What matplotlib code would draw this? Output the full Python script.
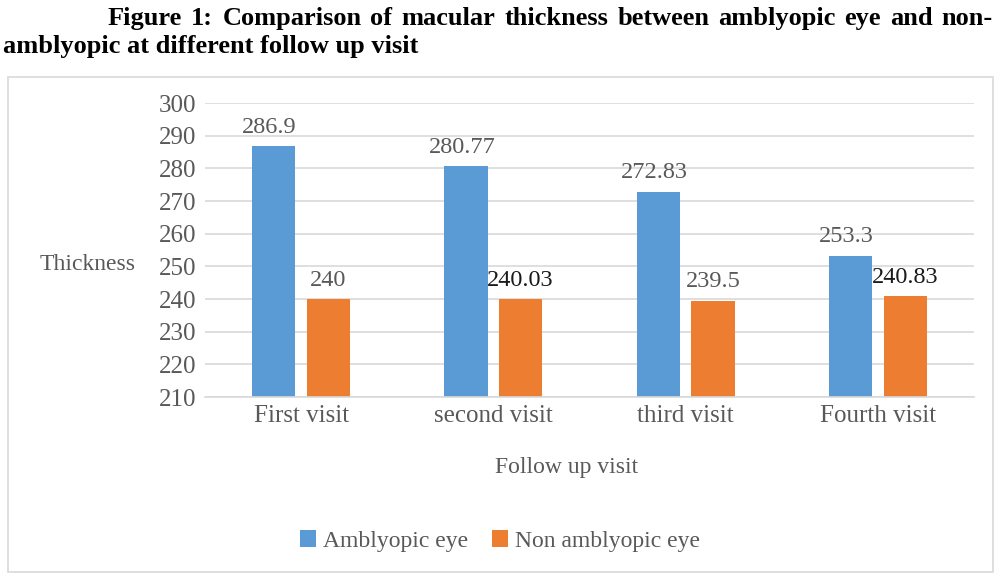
import matplotlib.pyplot as plt
import numpy as np
from matplotlib.patches import Rectangle

# data
visits = ['First visit', 'second visit', 'third visit', 'Fourth visit']
amblyopic = [286.9, 280.77, 272.83, 253.3]
non_amblyopic = [240, 240.03, 239.5, 240.83]
amb_labels = ['286.9', '280.77', '272.83', '253.3']
non_labels = ['240', '240.03', '239.5', '240.83']

plt.rcParams['font.family'] = ['Liberation Serif', 'DejaVu Serif']
grey = '#595959'
blue = '#5B9BD5'
orange = '#ED7D31'

fig = plt.figure(figsize=(10, 5.79), dpi=100)
ax = fig.add_axes([0.205, 0.3143, 0.769, 0.5077])

x = np.arange(len(visits))
w = 0.225
b1 = ax.bar(x - 0.142, np.array(amblyopic) - 210, w, bottom=210, color=blue, label='Amblyopic eye')
b2 = ax.bar(x + 0.142, np.array(non_amblyopic) - 210, w, bottom=210, color=orange, label='Non amblyopic eye')

for xi, v, t in zip(x, amblyopic, amb_labels):
    ax.annotate(t, (xi - 0.142, v), xytext=(-3, 6), textcoords='offset points',
                ha='center', va='bottom', fontsize=17.5, color=grey)
# two of the orange labels look darker in the original
dark = {1: '#1a1a1a', 3: '#1a1a1a'}
for i, (xi, v, t) in enumerate(zip(x, non_amblyopic, non_labels)):
    ax.annotate(t, (xi + 0.142, v), xytext=(0, 6), textcoords='offset points',
                ha='center', va='bottom', fontsize=17.5, color=dark.get(i, grey))

ax.set_xlim(-0.5, 3.5)
ax.set_ylim(210, 300)
ax.set_yticks(range(210, 301, 10))
ax.set_xticks(x)
ax.set_xticklabels(visits)
ax.tick_params(axis='both', length=0, labelsize=18, labelcolor=grey, pad=6)
ax.grid(axis='y', color='#d9d9d9', linewidth=1.2)
ax.set_axisbelow(True)
for s in ['top', 'right', 'left']:
    ax.spines[s].set_visible(False)
ax.spines['bottom'].set_color('#d9d9d9')
ax.spines['bottom'].set_linewidth(1.2)

fig.text(0.088, 1 - 265 / 579, 'Thickness', ha='center', va='center', fontsize=17, color=grey)
fig.text(0.567, 1 - 468 / 579, 'Follow up visit', ha='center', va='center', fontsize=17, color=grey)

fig.legend(handles=[b1, b2], loc='center', bbox_to_anchor=(0.5, 1 - 541 / 579), ncol=2,
           frameon=False, fontsize=17, labelcolor=grey, handlelength=0.7, handleheight=0.7,
           handletextpad=0.3, columnspacing=1.0)

# title: first line is justified in the original, so lay the words out by hand
words = 'Figure 1: Comparison of macular thickness between amblyopic eye and non-'.split()
renderer = fig.canvas.get_renderer()
y1 = 1 - 25 / 579
texts = [fig.text(0, y1, wd, ha='left', va='baseline', fontsize=19, fontweight='bold') for wd in words]
widths = [t.get_window_extent(renderer).width for t in texts]
left, right = 108, 993
gap = (right - left - sum(widths)) / (len(words) - 1)
pos = left
for t, wd in zip(texts, widths):
    t.set_x(pos / 1000)
    pos += wd + gap
fig.text(0.003, 1 - 53 / 579, 'amblyopic at different follow up visit',
         ha='left', va='baseline', fontsize=19, fontweight='bold', color='black')

fig.patches.append(Rectangle((0.008, 1 - 572 / 579), 0.985, (572 - 77) / 579, transform=fig.transFigure,
                             fill=False, edgecolor='#d9d9d9', linewidth=1.2))

fig.savefig('out.png', dpi=100)
